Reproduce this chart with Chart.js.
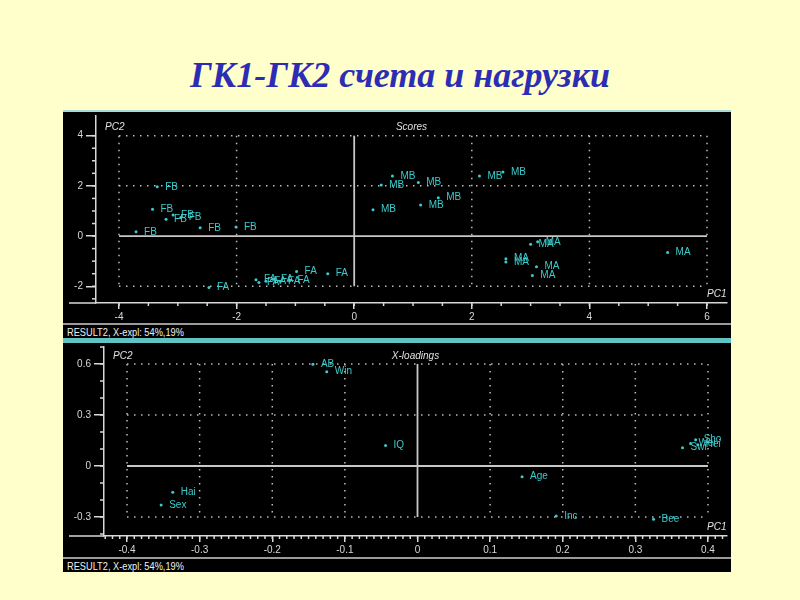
<!DOCTYPE html>
<html lang="ru">
<head>
<meta charset="UTF-8">
<title>ГК1-ГК2 счета и нагрузки</title>
<script src="https://cdn.jsdelivr.net/npm/chart.js"></script>
<style>
  body { margin: 0; width: 800px; height: 600px; background: #FFFFCC; position: relative; overflow: hidden; }
  #title { position: absolute; left: 0; top: 54px; width: 800px; text-align: center;
           font: italic bold 36px "Liberation Serif", "Times New Roman", serif; color: #2D2DB4; }
  .panel { position: absolute; left: 63px; width: 668px; background: #000; }
  .panel canvas { position: absolute; left: 0; }
  .sep { position: absolute; left: 0; width: 668px; height: 2px; background: #9a9a9a; }
  .result { position: absolute; left: 4px; color: #f0f0f0; white-space: nowrap;
            font: 11px "Liberation Sans", Arial, sans-serif;
            transform: scaleX(0.84); transform-origin: left top; }
</style>
</head>
<body>
<div id="title">ГК1-ГК2 счета и нагрузки</div>

<div class="panel" style="top:110px;height:231px;border-top:2px solid #a8d8d8;border-bottom:3px solid #5fc4c4;box-sizing:border-box;">
  <canvas id="scores" width="668" height="211" style="top:0px"></canvas>
  <div class="sep" style="top:211px"></div>
  <div class="result" style="top:214px">RESULT2, X-expl: 54%,19%</div>
</div>

<div class="panel" style="top:341px;height:231px;border-top:2px solid #5fc4c4;box-sizing:border-box;">
  <canvas id="loadings" width="668" height="214" style="top:0px"></canvas>
  <div class="sep" style="top:214px"></div>
  <div class="result" style="top:217px">RESULT2, X-expl: 54%,19%</div>
</div>

<script>
// ---- scores (PC1 / PC2) ----
const scoreNames = ['FB', 'FB', 'FB', 'FB', 'FB', 'FB', 'FB', 'FB',
                    'FA', 'FA', 'FA', 'FA', 'FA', 'FA', 'FA', 'FA', 'FA',
                    'MB', 'MB', 'MB', 'MB', 'MB', 'MB', 'MB', 'MB',
                    'MA', 'MA', 'MA', 'MA', 'MA', 'MA', 'MA'];
const scorePC1 = [-3.35, -3.43, -3.20, -3.08, -2.95, -2.62, -2.01, -3.71,
                  -2.47, -1.67, -1.62, -1.50, -1.38, -1.26, -1.10, -0.98, -0.45,
                  0.65, 0.46, 1.09, 2.13, 2.53, 0.32, 1.13, 1.43,
                  3.00, 3.12, 2.58, 2.58, 3.10, 3.03, 5.33];
const scorePC2 = [1.96, 1.07, 0.67, 0.84, 0.74, 0.33, 0.36, 0.17,
                  -2.05, -1.74, -1.85, -1.80, -1.72, -1.80, -1.78, -1.41, -1.50,
                  2.39, 2.03, 2.13, 2.39, 2.55, 1.05, 1.24, 1.53,
                  -0.33, -0.23, -0.90, -1.03, -1.22, -1.57, -0.65];
const scoreTicksX = [-4, -2, 0, 2, 4, 6];
const scoreTicksY = [-2, 0, 2, 4];

// ---- X-loadings ----
const loadNames = ['AB', 'Win', 'IQ', 'Swi', 'Wei', 'Hei', 'Sho', 'Age', 'Inc', 'Bee', 'Hai', 'Sex'];
const loadPC1 = [-0.144, -0.125, -0.044, 0.365, 0.376, 0.386, 0.383, 0.144, 0.191, 0.325, -0.337, -0.353];
const loadPC2 = [0.598, 0.555, 0.120, 0.108, 0.133, 0.125, 0.155, -0.063, -0.294, -0.314, -0.155, -0.229];
const loadTicksX = [-0.4, -0.3, -0.2, -0.1, 0, 0.1, 0.2, 0.3, 0.4];
const loadTicksY = [-0.3, 0, 0.3, 0.6];

const teal = '#3ccccc';
const axisCol = '#d8d8d8';

// grid, minor ticks, captions and point labels
const panelDecor = {
  id: 'panelDecor',
  beforeDatasetsDraw(chart, args, o) {
    const ctx = chart.ctx, xs = chart.scales.x, ys = chart.scales.y;
    const x0 = xs.getPixelForValue(o.gridX[0]), x1 = xs.getPixelForValue(o.gridX[o.gridX.length - 1]);
    const y0 = ys.getPixelForValue(o.gridY[0]), y1 = ys.getPixelForValue(o.gridY[o.gridY.length - 1]);
    ctx.save();
    ctx.strokeStyle = '#bdbdbd';
    ctx.lineWidth = 1.5;
    ctx.setLineDash([1.5, 5.5]);
    o.gridX.forEach(v => {
      if (v === 0) return;
      const p = xs.getPixelForValue(v);
      ctx.beginPath(); ctx.moveTo(p, y1); ctx.lineTo(p, y0); ctx.stroke();
    });
    o.gridY.forEach(v => {
      if (v === 0) return;
      const p = ys.getPixelForValue(v);
      ctx.beginPath(); ctx.moveTo(x0, p); ctx.lineTo(x1, p); ctx.stroke();
    });
    ctx.setLineDash([]);
    ctx.strokeStyle = '#c8c8c8';
    ctx.lineWidth = 1.8;
    const zx = xs.getPixelForValue(0), zy = ys.getPixelForValue(0);
    ctx.beginPath(); ctx.moveTo(zx, y1); ctx.lineTo(zx, y0); ctx.stroke();
    ctx.beginPath(); ctx.moveTo(x0, zy); ctx.lineTo(x1, zy); ctx.stroke();
    ctx.restore();
  },
  afterDatasetsDraw(chart, args, o) {
    const ctx = chart.ctx, meta = chart.getDatasetMeta(0);
    ctx.save();
    ctx.fillStyle = teal;
    ctx.font = '10px "Liberation Sans", Arial, sans-serif';
    ctx.textBaseline = 'middle';
    meta.data.forEach((pt, i) => ctx.fillText(o.names[i], pt.x + 8, pt.y));
    ctx.restore();
  },
  afterDraw(chart, args, o) {
    const ctx = chart.ctx, xs = chart.scales.x, ys = chart.scales.y, a = chart.chartArea;
    ctx.save();
    ctx.strokeStyle = axisCol;
    ctx.lineWidth = 1.5;
    // minor ticks
    for (let k = o.minorX[0]; k <= o.minorX[1]; k++) {
      const p = xs.getPixelForValue(k * o.minorX[2]);
      ctx.beginPath(); ctx.moveTo(p, a.bottom); ctx.lineTo(p, a.bottom + 3); ctx.stroke();
    }
    for (let k = o.minorY[0]; k <= o.minorY[1]; k++) {
      const p = ys.getPixelForValue(k * o.minorY[2]);
      ctx.beginPath(); ctx.moveTo(a.left, p); ctx.lineTo(a.left - 4, p); ctx.stroke();
    }
    // axis line continues under the y axis
    ctx.beginPath(); ctx.moveTo(6, a.bottom); ctx.lineTo(a.left, a.bottom); ctx.stroke();
    // captions
    ctx.fillStyle = '#e0e0e0';
    ctx.font = 'italic 10px "Liberation Sans", Arial, sans-serif';
    ctx.textBaseline = 'middle';
    ctx.textAlign = 'left';
    ctx.fillText('PC2', a.left + 9, a.top + o.capTop);
    ctx.fillText('PC1', a.right - 20, a.bottom - 9);
    ctx.textAlign = 'center';
    ctx.fillText(o.title, (a.left + a.right) / 2, a.top + o.capTop);
    ctx.restore();
  }
};

function makeScales(xr, yr, ticksX, ticksY, yWidth, xHeight) {
  const common = {
    type: 'linear',
    grid: { drawOnChartArea: false, drawTicks: true, color: axisCol, lineWidth: 1.5 },
    border: { display: true, color: axisCol, width: 1.5 },
  };
  return {
    x: Object.assign({}, common, {
      min: xr[0], max: xr[1],
      grid: Object.assign({}, common.grid, { tickLength: 6 }),
      ticks: { color: axisCol, font: { size: 10, family: 'Liberation Sans, Arial' }, padding: 2,
               maxRotation: 0, autoSkip: false, callback: v => String(v) },
      afterBuildTicks: s => { s.ticks = ticksX.map(v => ({ value: v })); },
      afterFit: s => { s.height = xHeight; s.paddingLeft = 0; s.paddingRight = 0; }
    }),
    y: Object.assign({}, common, {
      min: yr[0], max: yr[1],
      grid: Object.assign({}, common.grid, { tickLength: 10 }),
      ticks: { color: axisCol, font: { size: 10, family: 'Liberation Sans, Arial' }, padding: 3,
               autoSkip: false, callback: v => String(v) },
      afterBuildTicks: s => { s.ticks = ticksY.map(v => ({ value: v })); },
      afterFit: s => { s.width = yWidth; s.paddingTop = 0; s.paddingBottom = 0; }
    })
  };
}

function points(xv, yv) {
  return xv.map((x, i) => ({ x: x, y: yv[i] }));
}

new Chart(document.getElementById('scores'), {
  type: 'scatter',
  data: { datasets: [{ data: points(scorePC1, scorePC2), pointRadius: 1.5, pointBorderWidth: 0,
                       pointBackgroundColor: teal }] },
  options: {
    responsive: false, animation: false,
    layout: { padding: { top: 1, right: 4, left: 0, bottom: 0 } },
    plugins: {
      legend: { display: false }, tooltip: { enabled: false },
      panelDecor: { names: scoreNames, gridX: scoreTicksX, gridY: scoreTicksY,
                    minorX: [-8, 12, 0.5], minorY: [-5, 8, 0.5], title: 'Scores', capTop: 11 }
    },
    scales: makeScales([-4.391, 6.340], [-2.667, 4.784], scoreTicksX, scoreTicksY, 33, 20)
  },
  plugins: [panelDecor]
});

new Chart(document.getElementById('loadings'), {
  type: 'scatter',
  data: { datasets: [{ data: points(loadPC1, loadPC2), pointRadius: 1.5, pointBorderWidth: 0,
                       pointBackgroundColor: teal }] },
  options: {
    responsive: false, animation: false,
    layout: { padding: { top: 4, right: 4, left: 0, bottom: 0 } },
    plugins: {
      legend: { display: false }, tooltip: { enabled: false },
      panelDecor: { names: loadNames, gridX: loadTicksX, gridY: loadTicksY,
                    minorX: [-43, 42, 0.01], minorY: [-4, 7, 0.1], title: 'X-loadings', capTop: 9 }
    },
    scales: makeScales([-0.4317, 0.4262], [-0.4118, 0.7], loadTicksX, loadTicksY, 41, 21)
  },
  plugins: [panelDecor]
});
</script>
</body>
</html>
